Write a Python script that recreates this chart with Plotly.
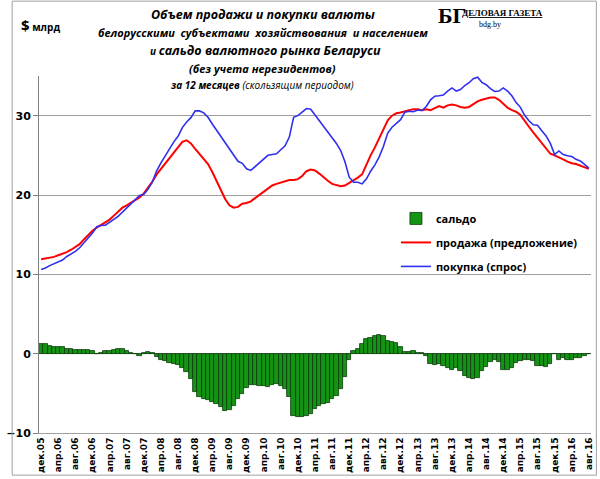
import plotly.graph_objects as go

# months from dec.05 to aug.16
month_names = ['янв', 'фев', 'мар', 'апр', 'май', 'июн', 'июл', 'авг', 'сен', 'окт', 'ноя', 'дек']
months = ['дек.05'] + [f'{m}.{y:02d}' for y in range(6, 17) for m in month_names]
months = months[:129]
tick_labels = months[::4]

# продажа (предложение), $ bn, 12-month rolling
sales = [11.9, 12.0, 12.1, 12.2, 12.4, 12.6, 12.8, 13.1, 13.4, 13.8,
         14.4, 15.0, 15.5, 15.9, 16.2, 16.5, 16.9, 17.4, 17.9, 18.4,
         18.7, 19.0, 19.3, 19.7, 20.2, 20.9, 21.7, 22.6, 23.3, 24.0,
         24.7, 25.4, 26.0, 26.7, 26.9, 26.5, 25.8, 25.2, 24.6, 23.9,
         22.9, 21.8, 20.7, 19.5, 18.7, 18.4, 18.5, 18.9, 19.0, 19.2,
         19.6, 20.0, 20.4, 20.8, 21.2, 21.4, 21.6, 21.7, 21.9, 21.9,
         22.0, 22.4, 23.0, 23.2, 23.1, 22.7, 22.2, 21.8, 21.4, 21.2,
         21.1, 21.2, 21.5, 21.9, 22.2, 22.6, 23.9, 25.0, 26.0, 27.2,
         28.4, 29.4, 30.0, 30.3, 30.4, 30.6, 30.7, 30.8, 30.8, 30.7,
         30.8, 30.7, 31.0, 31.2, 31.0, 31.3, 31.4, 31.3, 31.1, 31.0,
         31.1, 31.5, 31.8, 32.0, 32.2, 32.3, 32.3, 32.0, 31.5, 31.0,
         30.7, 30.5, 30.1, 29.3, 28.6, 27.9, 27.2, 26.5, 25.8, 25.2,
         25.0, 24.8, 24.5, 24.2, 24.0, 23.9, 23.7, 23.5, 23.3]

# покупка (спрос)
purchases = [10.6, 10.8, 11.1, 11.3, 11.5, 11.8, 12.25, 12.55, 12.9, 13.35,
             14.0, 14.6, 15.2, 16.0, 16.15, 16.2, 16.55, 17.0, 17.3, 17.85,
             18.4, 18.95, 19.4, 19.95, 20.1, 20.75, 21.65, 23.05, 24.05, 24.95,
             25.85, 26.7, 27.4, 28.5, 29.2, 29.75, 30.6, 30.6, 30.35, 29.8,
             28.95, 28.15, 27.45, 26.7, 25.8, 25.0, 24.25, 24.0, 23.3, 23.1,
             23.6, 24.1, 24.5, 25.0, 25.1, 25.2, 25.7, 26.2, 27.3, 29.8,
             30.0, 30.4, 30.9, 30.8, 30.1, 29.3, 28.6, 28.0, 27.15, 26.5,
             25.6, 24.2, 22.25, 21.6, 21.6, 21.4, 22.0, 23.0, 23.8, 24.8,
             26.15, 27.8, 28.55, 29.0, 29.5, 30.45, 30.55, 30.5, 30.7, 30.65,
             31.15, 32.0, 32.45, 32.5, 32.6, 33.1, 33.5, 33.1, 33.3, 33.8,
             34.15, 34.65, 34.85, 34.2, 33.9, 33.4, 33.05, 33.1, 33.5, 33.1,
             32.5, 31.65, 31.05, 30.05, 29.35, 28.85, 28.8, 28.1, 27.45, 26.5,
             25.1, 25.55, 25.1, 24.95, 24.85, 24.5, 24.3, 23.85, 23.4]

# сальдо
balance = [1.25, 1.25, 1.0, 0.9, 0.9, 0.8, 0.55, 0.55, 0.5, 0.45,
           0.4, 0.4, 0.3, -0.1, 0.05, 0.3, 0.35, 0.4, 0.6, 0.55,
           0.3, 0.05, -0.1, -0.25, 0.1, 0.15, 0.05, -0.45, -0.75, -0.95,
           -1.15, -1.3, -1.4, -1.8, -2.3, -3.25, -4.8, -5.4, -5.75, -5.9,
           -6.05, -6.35, -6.75, -7.2, -7.1, -6.6, -5.75, -5.1, -4.3, -3.9,
           -4.0, -4.1, -4.1, -4.2, -3.9, -3.8, -4.1, -4.5, -5.4, -7.9,
           -8.0, -8.0, -7.9, -7.6, -7.0, -6.6, -6.4, -6.2, -5.75, -5.3,
           -4.5, -3.0, -0.75, 0.3, 0.6, 1.2, 1.9, 2.0, 2.2, 2.4,
           2.25, 1.6, 1.45, 1.3, 0.9, 0.15, 0.15, 0.3, 0.1, 0.05,
           -0.35, -1.3, -1.45, -1.3, -1.6, -1.8, -2.1, -1.8, -2.2, -2.8,
           -3.05, -3.15, -3.05, -2.2, -1.7, -1.1, -0.75, -1.1, -2.0, -2.1,
           -1.8, -1.15, -0.95, -0.75, -0.75, -0.95, -1.6, -1.6, -1.65, -1.3,
           -0.1, -0.75, -0.6, -0.75, -0.85, -0.6, -0.6, -0.35, -0.1]

# plot area in pixels, used to place the texts
L, R, T, B = 28, 6, 76, 43
W, H = 600 - L - R, 479 - T - B


def px(x):
    return (x - L) / W


def py(y):
    return (479 - B - y) / H


fig = go.Figure()
fig.add_trace(go.Bar(x=months, y=balance, name='сальдо', legendgroup='a',
                     marker=dict(color='#149414', line=dict(color='#0a3a0a', width=0.8))))
fig.add_trace(go.Scatter(x=months, y=sales, mode='lines', name='продажа (предложение)',
                         legendgroup='b', line=dict(color='#ff0000', width=2)))
fig.add_trace(go.Scatter(x=months, y=purchases, mode='lines', name='покупка (спрос)',
                         legendgroup='c', line=dict(color='#2f2fee', width=1.6)))

title_font = 'Open Sans'
ann = [
    dict(text='<b><i>Объем продажи и покупки валюты</i></b>', x=px(258), y=py(14), size=12.5),
    dict(text='<b><i>белорусскими  субъектами  хозяйствования  и населением</i></b>', x=px(258), y=py(32), size=11),
    dict(text='<b><i><span style="font-size:10px">и </span>сальдо валютного рынка Беларуси</i></b>',
         x=px(260), y=py(50), size=12.5),
    dict(text='<b><i>(без учета нерезидентов)</i></b>', x=px(257), y=py(68), size=11),
    dict(text='<b><i>за 12 месяцев</i></b><i> (скользящим периодом)</i>', x=px(257), y=py(85), size=10),
]
annotations = [dict(text=a['text'], x=a['x'], y=a['y'], xref='paper', yref='paper',
                    showarrow=False, xanchor='center', yanchor='middle',
                    font=dict(family=title_font, size=a['size'], color='#000000'))
               for a in ann]
annotations += [
    dict(text='<b><span style="font-size:15px">$</span> млрд</b>', x=px(8), y=py(25), xref='paper', yref='paper',
         showarrow=False, xanchor='left', yanchor='middle',
         font=dict(family='Open Sans', size=10, color='#000000')),
    dict(text='<b>БГ</b>', x=px(435), y=py(15), xref='paper', yref='paper', showarrow=False,
         xanchor='left', yanchor='middle', font=dict(family='Liberation Serif', size=22, color='#000000')),
    dict(text='<b><u>ДЕЛОВАЯ ГАЗЕТА</u></b>', x=px(460), y=py(12), xref='paper', yref='paper',
         showarrow=False, xanchor='left', yanchor='middle',
         font=dict(family='Liberation Serif', size=9, color='#000000')),
    dict(text='bdg.by', x=px(490), y=py(24), xref='paper', yref='paper', showarrow=False,
         xanchor='center', yanchor='middle', font=dict(family='Liberation Serif', size=8, color='#000000')),
]

fig.update_layout(
    width=600, height=479,
    margin=dict(l=L, r=R, t=T, b=B),
    paper_bgcolor='white', plot_bgcolor='white',
    bargap=0,
    showlegend=True,
    legend=dict(x=px(394), y=py(205), xanchor='left', yanchor='top',
                font=dict(family='Open Sans', size=11, color='#000000', weight='bold'),
                itemwidth=30, tracegroupgap=5, bgcolor='rgba(0,0,0,0)'),
    annotations=annotations,
    shapes=[dict(type='rect', xref='paper', yref='paper', x0=px(0.5), x1=px(599.5),
                 y0=py(478.5), y1=py(0.5), line=dict(color='#a0a0a0', width=1))],
)
fig.update_xaxes(type='category', tickmode='array', tickvals=tick_labels, ticktext=tick_labels,
                 tickangle=-90, showgrid=False, showline=True, linecolor='#a0a0a0', linewidth=1,
                 ticks='', tickfont=dict(family='DejaVu Sans', size=9, color='#000000', weight='bold'),
                 range=[-0.5, 128.5])
fig.update_yaxes(range=[-10, 35], tickvals=[-10, 0, 10, 20, 30], showgrid=True, gridcolor='#a0a0a0',
                 zeroline=True, zerolinecolor='#a0a0a0', zerolinewidth=1,
                 showline=True, linecolor='#808080', linewidth=1, ticks='outside', ticklen=5,
                 tickcolor='#808080',
                 tickfont=dict(family='DejaVu Sans', size=11, color='#000000', weight='bold'))

# the page's default body margin would push the 600x479 figure off the window
fig.write_html("out.html", config={'displayModeBar': False},
               post_script="document.body.style.margin = '0';")
